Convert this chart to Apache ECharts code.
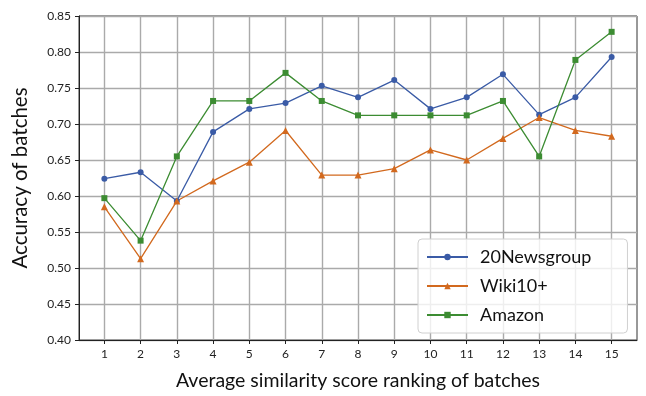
<!DOCTYPE html>
<html>
<head>
<meta charset="utf-8">
<script src="https://cdn.jsdelivr.net/npm/echarts@6/dist/echarts.min.js"></script>
<style>
  html, body { margin: 0; padding: 0; background: #fff; }
  #chart { width: 646px; height: 396px; }
</style>
</head>
<body>
<div id="chart"></div>
<script>
// x positions (ranking of batches)
var ranks = [1, 2, 3, 4, 5, 6, 7, 8, 9, 10, 11, 12, 13, 14, 15];
// accuracy values
var newsgroup = [0.624, 0.633, 0.593, 0.689, 0.721, 0.729, 0.753, 0.737, 0.761, 0.721, 0.737, 0.769, 0.713, 0.737, 0.793];
var wiki = [0.585, 0.513, 0.593, 0.621, 0.647, 0.691, 0.629, 0.629, 0.638, 0.664, 0.650, 0.680, 0.709, 0.691, 0.683];
var amazon = [0.597, 0.538, 0.655, 0.732, 0.732, 0.771, 0.732, 0.712, 0.712, 0.712, 0.712, 0.732, 0.655, 0.789, 0.828];

var fontFam = "Lato, 'DejaVu Sans', sans-serif";

function pairs(vals) {
  return ranks.map(function (r, i) { return [r, vals[i]]; });
}

function makeSeries(name, vals, color, symbol, size) {
  return {
    name: name,
    type: "line",
    data: pairs(vals),
    symbol: symbol,
    symbolSize: size,
    showSymbol: true,
    itemStyle: { color: color },
    lineStyle: { color: color, width: 1.3 },
    emphasis: { disabled: true }
  };
}

var chart = echarts.init(document.getElementById("chart"));
chart.setOption({
  animation: false,
  backgroundColor: "#fff",
  textStyle: { fontFamily: fontFam },
  grid: {
    left: 79, right: 9, top: 16, bottom: 54,
    show: true, borderColor: "#333", borderWidth: 1
  },
  legend: {
    orient: "vertical",
    left: 418, top: 239,
    padding: [8, 36, 8, 8],
    itemWidth: 41, itemHeight: 8, itemGap: 9,
    backgroundColor: "rgba(255,255,255,0.8)",
    borderColor: "#d0d0d0", borderWidth: 1, borderRadius: 4,
    textStyle: { fontSize: 18, color: "#111", padding: [0, 0, 0, 7], lineHeight: 20, fontFamily: fontFam },
    data: ["20Newsgroup", "Wiki10+", "Amazon"]
  },
  xAxis: {
    type: "value",
    min: 0.3, max: 15.7,
    name: "Average similarity score ranking of batches",
    nameLocation: "middle", nameGap: 31,
    nameTextStyle: { fontSize: 19.5, color: "#111" },
    axisLine: { lineStyle: { color: "#222", width: 1 } },
    axisTick: { show: true, length: 4, customValues: ranks, lineStyle: { color: "#222" } },
    axisLabel: { customValues: ranks, fontSize: 12, color: "#222", margin: 8 },
    splitLine: { show: true, lineStyle: { color: "#aaaaaa", width: 1.4 } }
  },
  yAxis: {
    type: "value",
    min: 0.4, max: 0.85, interval: 0.05,
    name: "Accuracy of batches",
    nameLocation: "middle", nameGap: 48,
    nameTextStyle: { fontSize: 20.5, color: "#111" },
    axisLine: { show: true, lineStyle: { color: "#222", width: 1 } },
    axisTick: { show: true, length: 4, lineStyle: { color: "#222" } },
    axisLabel: { fontSize: 12, color: "#222", margin: 8, formatter: function (v) { return v.toFixed(2); } },
    splitLine: { show: true, lineStyle: { color: "#aaaaaa", width: 1.4 } }
  },
  series: [
    makeSeries("20Newsgroup", newsgroup, "#3a5ba6", "circle", 6),
    makeSeries("Wiki10+", wiki, "#d2691e", "triangle", 7),
    makeSeries("Amazon", amazon, "#3c8c32", "rect", 6)
  ]
});
</script>
</body>
</html>
